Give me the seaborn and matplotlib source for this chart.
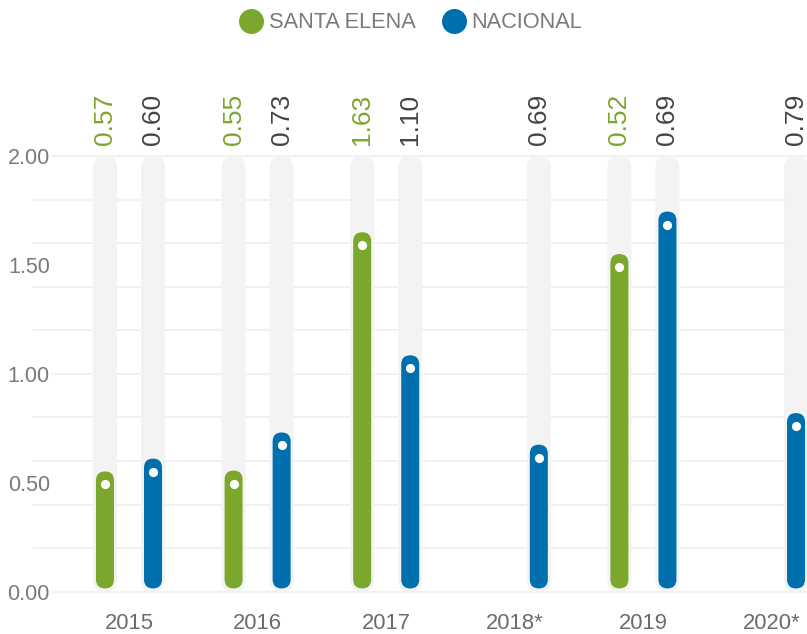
import numpy as np
import pandas as pd
import matplotlib
matplotlib.use("Agg")
import matplotlib.pyplot as plt
import seaborn as sns
from matplotlib.patches import FancyBboxPatch
from matplotlib.lines import Line2D
from matplotlib.transforms import ScaledTranslation

# ---------------- data ----------------
years = ["2015", "2016", "2017", "2018*", "2019", "2020*"]
series = ["SANTA ELENA", "NACIONAL"]
santa_elena = [0.552, 0.556, 1.65, np.nan, 1.55, np.nan]
nacional = [0.611, 0.731, 1.085, 0.675, 1.745, 0.82]
santa_elena_labels = ["0.57", "0.55", "1.63", None, "0.52", None]
nacional_labels = ["0.60", "0.73", "1.10", "0.69", "0.69", "0.79"]
track_max = 2.0
y_ticks = [0.0, 0.5, 1.0, 1.5, 2.0]
grid_vals = [0.0, 0.2, 0.4, 0.6, 0.8, 1.0, 1.2, 1.4, 1.6, 1.8, 2.0]

GREEN = "#7ba72c"
BLUE = "#006fad"
TRACK = "#f3f3f3"

sns.set_theme(style="white")
plt.rcParams["font.family"] = ["Liberation Sans", "DejaVu Sans"]

df = pd.DataFrame({
    "year": years * 2,
    "series": [series[0]] * len(years) + [series[1]] * len(years),
    "value": santa_elena + nacional,
}).dropna()
bg = df.assign(value=track_max)
labels_map = {series[0]: santa_elena_labels, series[1]: nacional_labels}
label_colors = {series[0]: GREEN, series[1]: "#444444"}

W, H = 807, 634
fig = plt.figure(figsize=(W / 100, H / 100), dpi=100)
ax = fig.add_axes([33 / W, (H - 591.7) / H, (W - 33) / W, 435.7 / H])

sns.barplot(data=bg, x="year", y="value", hue="series", order=years,
            hue_order=series, palette=[TRACK, TRACK], width=0.747,
            saturation=1, errorbar=None, legend=False, ax=ax)
n_bg = len(ax.patches)
sns.barplot(data=df, x="year", y="value", hue="series", order=years,
            hue_order=series, palette=[GREEN, BLUE], width=0.747,
            saturation=1, errorbar=None, legend=False, ax=ax)

ax.set_xlim(-0.7465, 5.272)
ax.set_ylim(0, 2.0)
pxx = ax.bbox.width / (5.272 + 0.7465)
pxy = ax.bbox.height / 2.0

dot_off = ScaledTranslation(0, -13 / 100, fig.dpi_scale_trans)
lab_off = ScaledTranslation(0, 11 / 100, fig.dpi_scale_trans)

for i, p in enumerate(list(ax.patches)):
    is_bg = i < n_bg
    h = p.get_height()
    cx = p.get_x() + p.get_width() / 2
    fc = p.get_facecolor()
    p.remove()
    if not np.isfinite(h) or h <= 0:
        continue
    wpx = 24 if is_bg else 18
    w = wpx / pxx
    y0 = 0.0 if is_bg else 0.015
    fb = FancyBboxPatch((cx - w / 2, y0), w, h - y0,
                        boxstyle=f"round,pad=0,rounding_size={w / 2}",
                        mutation_aspect=pxx / pxy, facecolor=fc,
                        edgecolor="none", zorder=2 if is_bg else 3,
                        clip_on=False)
    ax.add_patch(fb)
    idx = int(round(cx))
    s = series[0] if cx < idx else series[1]
    if not is_bg:
        ax.plot([cx], [h], "o", color="white", ms=6.6, mec="none", zorder=4,
                transform=ax.transData + dot_off, clip_on=False)
    else:
        txt = labels_map[s][idx]
        if txt is not None:
            ax.text(cx, track_max, txt, rotation=90, ha="center", va="bottom",
                    fontsize=19, color=label_colors[s],
                    transform=ax.transData + lab_off, clip_on=False)

# grid lines every 0.2 (start after the labels where a label sits)
for g in grid_vals:
    start = 19 / ax.bbox.width if any(abs(g - t) < 1e-9 for t in y_ticks) else 0.0
    ax.plot([start, 1], [g, g], color="#efefef", lw=1.2, zorder=1,
            transform=ax.get_yaxis_transform(), clip_on=False)

ax.set_yticks(y_ticks)
ax.set_yticklabels([f"{v:.2f}" for v in y_ticks])
ax.grid(False)
ax.tick_params(axis="y", which="both", length=0, pad=-12.2,
               labelsize=15.5, labelcolor="#7a7a7a")
ax.tick_params(axis="x", length=0, pad=15, labelsize=15.8,
               labelcolor="#6b6b6b")
ax.set_xlabel("")
ax.set_ylabel("")
for sp in ax.spines.values():
    sp.set_visible(False)

handles = [Line2D([], [], marker="o", ls="", markersize=18, color=c, mec="none")
           for c in (GREEN, BLUE)]
fig.legend(handles, series, loc="center", bbox_to_anchor=(411 / W, 1 - 23 / H),
           ncol=2, frameon=False, fontsize=15.7, handlelength=1,
           handletextpad=0.3, columnspacing=1.25, labelcolor="#7a7a7a")

fig.savefig("out.png", dpi=100)
